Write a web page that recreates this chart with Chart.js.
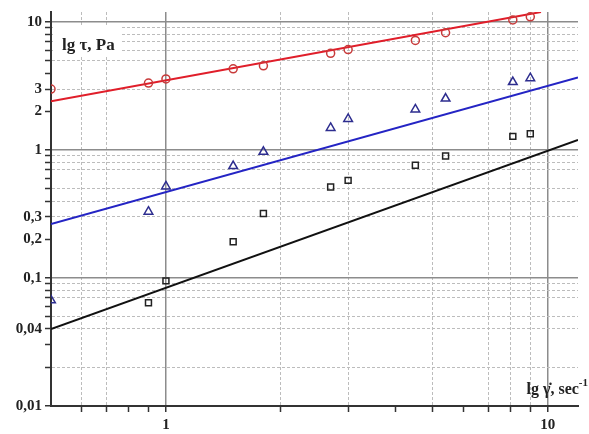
<!DOCTYPE html>
<html>
<head>
<meta charset="utf-8">
<script src="https://cdn.jsdelivr.net/npm/chart.js@4.4.0/dist/chart.umd.min.js"></script>
<style>
    body { margin: 0; background: #fff; }
    #caixa { width: 589px; height: 434px; }
</style>
</head>
<body>
<div id="caixa"><canvas id="graficoTau"></canvas></div>
<script>
// pontos medidos (lg gamma, lg tau)
const taxaCirculo = [0.5, 0.9, 1, 1.5, 1.8, 2.7, 3, 4.5, 5.4, 8.1, 9];
const tauCirculo = [3.0, 3.34, 3.6, 4.32, 4.56, 5.7, 6.1, 7.2, 8.26, 10.4, 11.0];
const taxaTriangulo = [0.5, 0.9, 1, 1.5, 1.8, 2.7, 3, 4.5, 5.4, 8.1, 9];
const tauTriangulo = [0.067, 0.33, 0.52, 0.75, 0.97, 1.49, 1.75, 2.08, 2.53, 3.4, 3.65];
const taxaQuadrado = [0.9, 1, 1.5, 1.8, 2.7, 3, 4.5, 5.4, 8.1, 9];
const tauQuadrado = [0.064, 0.095, 0.192, 0.32, 0.514, 0.58, 0.76, 0.90, 1.28, 1.34];

// retas de ajuste (extremos)
const retaVermelhaX = [0.5, 9.6];
const retaVermelhaY = [2.41, 12];
const retaAzulX = [0.5, 12];
const retaAzulY = [0.264, 3.7];
const retaPretaX = [0.5, 12];
const retaPretaY = [0.04, 1.2];

// eixos
const rotulosY = { 10: '10', 3: '3', 2: '2', 1: '1', 0.3: '0,3', 0.2: '0,2', 0.1: '0,1', 0.04: '0,04', 0.01: '0,01' };
const rotulosX = { 1: '1', 10: '10' };
const gradeY = [0.02, 0.04, 0.05, 0.07, 0.08, 0.09, 0.3, 0.4, 0.5, 0.7, 0.8, 0.9, 3, 5, 6, 7, 8, 9];
const gradeX = [0.6, 0.7, 2, 3, 5, 7, 8, 9];

function pares(xs, ys) {
    return xs.map((x, i) => ({ x: x, y: ys[i] }));
}

function valoresLog(inicio, fim) {
    let lista = [];
    for (let e = inicio; e <= fim; e++) {
        for (let k = 1; k <= 9; k++) {
            lista.push(Number((k * Math.pow(10, e)).toPrecision(3)));
        }
    }
    return lista;
}

function ehDecada(v) {
    let l = Math.log10(v);
    return Math.abs(l - Math.round(l)) < 1e-6;
}

function ehGrade(lista, v) {
    return lista.some(g => Math.abs(g - v) < 1e-9);
}

const fonteEixo = { family: '"Liberation Serif", serif', size: 15, weight: 'bold' };

function opcoesGrade(lista) {
    return {
        color: (ctx) => {
            if (!ctx.tick) return 'transparent';
            if (ehDecada(ctx.tick.value)) return '#8c8c8c';
            return ehGrade(lista, ctx.tick.value) ? '#bcbcbc' : 'transparent';
        },
        lineWidth: (ctx) => (ctx.tick && ehDecada(ctx.tick.value)) ? 1.5 : 1,
        tickColor: '#333',
        tickLength: 6,
        tickWidth: 1.5
    };
}

function opcoesBorda() {
    return {
        color: '#333',
        width: 2,
        dash: (ctx) => (ctx.tick && !ehDecada(ctx.tick.value)) ? [3, 2] : []
    };
}

// titulos dos eixos dentro da area
const titulos = {
    id: 'titulos',
    afterDraw(chart) {
        const ctx = chart.ctx;
        ctx.save();
        ctx.fillStyle = '#fff';
        ctx.fillRect(53, 25, 68, 30);
        ctx.fillStyle = '#222';
        ctx.textBaseline = 'alphabetic';
        ctx.font = 'bold 17px "Liberation Serif"';
        ctx.textAlign = 'left';
        ctx.fillText('lg τ, Pa', 62, 50);

        const principal = 'lg γ\u0307, sec';
        ctx.font = 'bold 11px "Liberation Serif"';
        const wSup = ctx.measureText('-1').width;
        ctx.font = 'bold 16px "Liberation Serif"';
        const wTxt = ctx.measureText(principal).width;
        const x0 = 588 - wSup - wTxt;
        ctx.fillText(principal, x0, 394);
        ctx.font = 'bold 11px "Liberation Serif"';
        ctx.fillText('-1', x0 + wTxt, 386);
        ctx.restore();
    }
};

const graficoTau = new Chart(document.getElementById('graficoTau'), {
    type: 'scatter',
    data: {
        datasets: [
            {
                data: pares(taxaCirculo, tauCirculo),
                pointStyle: 'circle',
                pointRadius: 4,
                borderColor: '#c83a3a',
                backgroundColor: 'transparent',
                borderWidth: 1.5
            },
            {
                data: pares(taxaTriangulo, tauTriangulo),
                pointStyle: 'triangle',
                pointRadius: 5,
                borderColor: '#2d2d8f',
                backgroundColor: 'transparent',
                borderWidth: 1.5
            },
            {
                data: pares(taxaQuadrado, tauQuadrado),
                pointStyle: 'rect',
                pointRadius: 4.2,
                borderColor: '#222',
                backgroundColor: 'transparent',
                borderWidth: 1.5
            },
            {
                data: pares(retaVermelhaX, retaVermelhaY),
                showLine: true,
                pointRadius: 0,
                borderColor: '#e01e2a',
                borderWidth: 2
            },
            {
                data: pares(retaAzulX, retaAzulY),
                showLine: true,
                pointRadius: 0,
                borderColor: '#2424c4',
                borderWidth: 2
            },
            {
                data: pares(retaPretaX, retaPretaY),
                showLine: true,
                pointRadius: 0,
                borderColor: '#111',
                borderWidth: 2
            }
        ]
    },
    options: {
        responsive: true,
        maintainAspectRatio: false,
        animation: false,
        layout: { padding: { top: 12, right: 11, left: 0, bottom: 0 } },
        plugins: {
            legend: { display: false },
            tooltip: { enabled: false }
        },
        scales: {
            x: {
                type: 'logarithmic',
                min: 0.5,
                max: 12,
                afterBuildTicks: (eixo) => {
                    eixo.ticks = valoresLog(-1, 1).filter(v => v >= 0.6 && v <= 10).map(v => ({ value: v }));
                },
                afterFit: (eixo) => { eixo.height = 28; },
                grid: opcoesGrade(gradeX),
                border: opcoesBorda(),
                ticks: {
                    autoSkip: false,
                    maxRotation: 0,
                    padding: 4,
                    color: '#222',
                    font: fonteEixo,
                    callback: (v) => rotulosX[v] || ''
                }
            },
            y: {
                type: 'logarithmic',
                min: 0.01,
                max: 12,
                afterBuildTicks: (eixo) => {
                    eixo.ticks = valoresLog(-2, 1).filter(v => v <= 10).map(v => ({ value: v }));
                },
                afterFit: (eixo) => { eixo.width = 51; },
                grid: opcoesGrade(gradeY),
                border: opcoesBorda(),
                ticks: {
                    autoSkip: false,
                    padding: 3,
                    color: '#222',
                    font: fonteEixo,
                    callback: (v) => rotulosY[v] || ''
                }
            }
        }
    },
    plugins: [titulos]
});
</script>
</body>
</html>
